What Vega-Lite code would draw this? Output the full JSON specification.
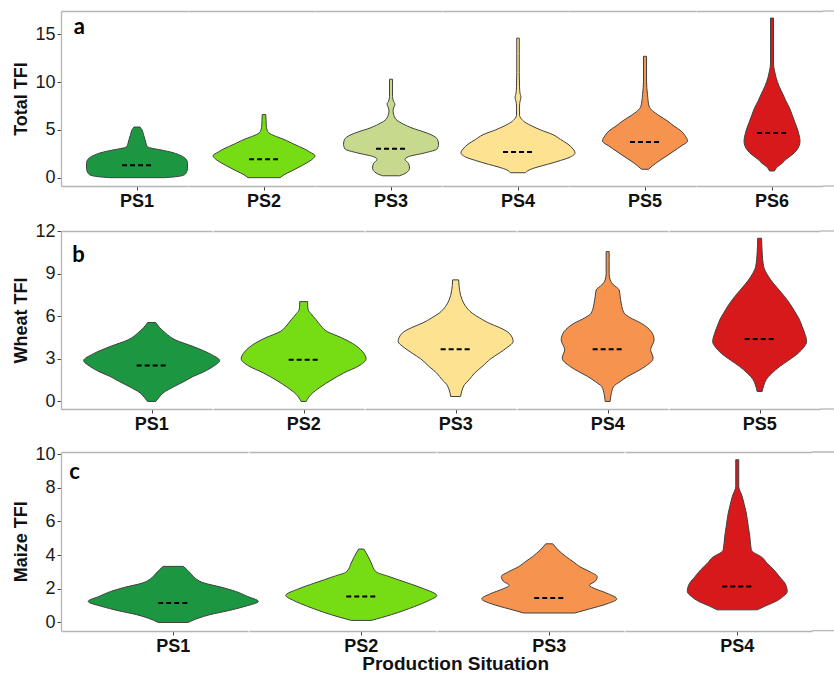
{
  "$schema": "https://vega.github.io/schema/vega-lite/v6.json",
  "padding": {"left": 12, "top": 10, "right": 0, "bottom": 0},
  "background": "white",
  "datasets": {
    "a": [
      {"ps": "PS1", "v": 0, "w": 0.434}, {"ps": "PS1", "v": 0.15, "w": 0.671}, {"ps": "PS1", "v": 0.4, "w": 0.766}, {"ps": "PS1", "v": 1.0, "w": 0.797}, {"ps": "PS1", "v": 1.5, "w": 0.797}, {"ps": "PS1", "v": 2.0, "w": 0.766}, {"ps": "PS1", "v": 2.3, "w": 0.695}, {"ps": "PS1", "v": 2.62, "w": 0.568}, {"ps": "PS1", "v": 2.9, "w": 0.379}, {"ps": "PS1", "v": 3.1, "w": 0.221}, {"ps": "PS1", "v": 3.3, "w": 0.158}, {"ps": "PS1", "v": 3.6, "w": 0.142}, {"ps": "PS1", "v": 4.0, "w": 0.126}, {"ps": "PS1", "v": 4.5, "w": 0.103}, {"ps": "PS1", "v": 5.0, "w": 0.079}, {"ps": "PS1", "v": 5.3, "w": 0.047},
      {"ps": "PS2", "v": 0, "w": 0.253}, {"ps": "PS2", "v": 0.3, "w": 0.316}, {"ps": "PS2", "v": 0.7, "w": 0.434}, {"ps": "PS2", "v": 1.0, "w": 0.521}, {"ps": "PS2", "v": 1.5, "w": 0.663}, {"ps": "PS2", "v": 2.0, "w": 0.773}, {"ps": "PS2", "v": 2.3, "w": 0.805}, {"ps": "PS2", "v": 2.7, "w": 0.718}, {"ps": "PS2", "v": 3.0, "w": 0.64}, {"ps": "PS2", "v": 3.5, "w": 0.474}, {"ps": "PS2", "v": 4.0, "w": 0.316}, {"ps": "PS2", "v": 4.3, "w": 0.197}, {"ps": "PS2", "v": 4.6, "w": 0.095}, {"ps": "PS2", "v": 5.0, "w": 0.047}, {"ps": "PS2", "v": 5.5, "w": 0.035}, {"ps": "PS2", "v": 6.0, "w": 0.032}, {"ps": "PS2", "v": 6.6, "w": 0.028},
      {"ps": "PS3", "v": 0.2, "w": 0.134}, {"ps": "PS3", "v": 0.5, "w": 0.237}, {"ps": "PS3", "v": 1.0, "w": 0.292}, {"ps": "PS3", "v": 1.5, "w": 0.276}, {"ps": "PS3", "v": 1.9, "w": 0.221}, {"ps": "PS3", "v": 2.2, "w": 0.276}, {"ps": "PS3", "v": 2.6, "w": 0.537}, {"ps": "PS3", "v": 3.0, "w": 0.726}, {"ps": "PS3", "v": 3.5, "w": 0.75}, {"ps": "PS3", "v": 4.0, "w": 0.734}, {"ps": "PS3", "v": 4.5, "w": 0.631}, {"ps": "PS3", "v": 4.8, "w": 0.513}, {"ps": "PS3", "v": 5.2, "w": 0.331}, {"ps": "PS3", "v": 5.6, "w": 0.197}, {"ps": "PS3", "v": 6.0, "w": 0.095}, {"ps": "PS3", "v": 6.5, "w": 0.047}, {"ps": "PS3", "v": 7.0, "w": 0.032}, {"ps": "PS3", "v": 7.4, "w": 0.047}, {"ps": "PS3", "v": 7.7, "w": 0.063}, {"ps": "PS3", "v": 8.0, "w": 0.039}, {"ps": "PS3", "v": 8.5, "w": 0.024}, {"ps": "PS3", "v": 9.5, "w": 0.024}, {"ps": "PS3", "v": 10.3, "w": 0.024},
      {"ps": "PS4", "v": 0.52, "w": 0.118}, {"ps": "PS4", "v": 0.8, "w": 0.174}, {"ps": "PS4", "v": 1.1, "w": 0.3}, {"ps": "PS4", "v": 1.4, "w": 0.466}, {"ps": "PS4", "v": 1.8, "w": 0.671}, {"ps": "PS4", "v": 2.1, "w": 0.805}, {"ps": "PS4", "v": 2.6, "w": 0.9}, {"ps": "PS4", "v": 3.0, "w": 0.868}, {"ps": "PS4", "v": 3.5, "w": 0.789}, {"ps": "PS4", "v": 4.0, "w": 0.671}, {"ps": "PS4", "v": 4.5, "w": 0.552}, {"ps": "PS4", "v": 5.0, "w": 0.355}, {"ps": "PS4", "v": 5.4, "w": 0.221}, {"ps": "PS4", "v": 5.8, "w": 0.11}, {"ps": "PS4", "v": 6.2, "w": 0.047}, {"ps": "PS4", "v": 6.5, "w": 0.024}, {"ps": "PS4", "v": 7.5, "w": 0.024}, {"ps": "PS4", "v": 8.0, "w": 0.032}, {"ps": "PS4", "v": 8.4, "w": 0.047}, {"ps": "PS4", "v": 8.8, "w": 0.032}, {"ps": "PS4", "v": 9.5, "w": 0.024}, {"ps": "PS4", "v": 11.0, "w": 0.02}, {"ps": "PS4", "v": 13.0, "w": 0.02}, {"ps": "PS4", "v": 14.6, "w": 0.02},
      {"ps": "PS5", "v": 0.88, "w": 0.055}, {"ps": "PS5", "v": 1.2, "w": 0.11}, {"ps": "PS5", "v": 1.75, "w": 0.221}, {"ps": "PS5", "v": 2.3, "w": 0.347}, {"ps": "PS5", "v": 2.8, "w": 0.458}, {"ps": "PS5", "v": 3.3, "w": 0.568}, {"ps": "PS5", "v": 3.84, "w": 0.671}, {"ps": "PS5", "v": 4.4, "w": 0.631}, {"ps": "PS5", "v": 4.9, "w": 0.568}, {"ps": "PS5", "v": 5.4, "w": 0.458}, {"ps": "PS5", "v": 5.93, "w": 0.355}, {"ps": "PS5", "v": 6.5, "w": 0.221}, {"ps": "PS5", "v": 7.0, "w": 0.118}, {"ps": "PS5", "v": 7.5, "w": 0.063}, {"ps": "PS5", "v": 8.7, "w": 0.039}, {"ps": "PS5", "v": 10.1, "w": 0.024}, {"ps": "PS5", "v": 12.7, "w": 0.024},
      {"ps": "PS6", "v": 0.7, "w": 0.039}, {"ps": "PS6", "v": 1.2, "w": 0.095}, {"ps": "PS6", "v": 1.5, "w": 0.158}, {"ps": "PS6", "v": 1.92, "w": 0.221}, {"ps": "PS6", "v": 2.4, "w": 0.316}, {"ps": "PS6", "v": 2.8, "w": 0.379}, {"ps": "PS6", "v": 3.3, "w": 0.426}, {"ps": "PS6", "v": 3.84, "w": 0.442}, {"ps": "PS6", "v": 4.5, "w": 0.426}, {"ps": "PS6", "v": 5.2, "w": 0.395}, {"ps": "PS6", "v": 5.9, "w": 0.355}, {"ps": "PS6", "v": 6.6, "w": 0.316}, {"ps": "PS6", "v": 7.3, "w": 0.276}, {"ps": "PS6", "v": 8.0, "w": 0.221}, {"ps": "PS6", "v": 8.7, "w": 0.174}, {"ps": "PS6", "v": 9.6, "w": 0.11}, {"ps": "PS6", "v": 10.5, "w": 0.063}, {"ps": "PS6", "v": 11.2, "w": 0.039}, {"ps": "PS6", "v": 11.9, "w": 0.024}, {"ps": "PS6", "v": 14.0, "w": 0.024}, {"ps": "PS6", "v": 16.7, "w": 0.024},
      {"ps": "PS1", "med": 1.3}, {"ps": "PS2", "med": 1.92}, {"ps": "PS3", "med": 3.03}, {"ps": "PS4", "med": 2.69}, {"ps": "PS5", "med": 3.73}, {"ps": "PS6", "med": 4.68},
      {"ps": "PS1", "tag": "a"}
    ],
    "b": [
      {"ps": "PS1", "v": 0, "w": 0.053}, {"ps": "PS1", "v": 0.3, "w": 0.099}, {"ps": "PS1", "v": 0.6, "w": 0.152}, {"ps": "PS1", "v": 1.05, "w": 0.298}, {"ps": "PS1", "v": 1.41, "w": 0.43}, {"ps": "PS1", "v": 1.76, "w": 0.549}, {"ps": "PS1", "v": 2.1, "w": 0.695}, {"ps": "PS1", "v": 2.46, "w": 0.814}, {"ps": "PS1", "v": 2.88, "w": 0.9}, {"ps": "PS1", "v": 3.35, "w": 0.774}, {"ps": "PS1", "v": 3.87, "w": 0.549}, {"ps": "PS1", "v": 4.34, "w": 0.311}, {"ps": "PS1", "v": 4.81, "w": 0.185}, {"ps": "PS1", "v": 5.2, "w": 0.106}, {"ps": "PS1", "v": 5.56, "w": 0.053},
      {"ps": "PS2", "v": 0, "w": 0.033}, {"ps": "PS2", "v": 0.5, "w": 0.099}, {"ps": "PS2", "v": 1.0, "w": 0.218}, {"ps": "PS2", "v": 1.5, "w": 0.364}, {"ps": "PS2", "v": 2.0, "w": 0.529}, {"ps": "PS2", "v": 2.5, "w": 0.728}, {"ps": "PS2", "v": 3.0, "w": 0.827}, {"ps": "PS2", "v": 3.5, "w": 0.781}, {"ps": "PS2", "v": 4.1, "w": 0.642}, {"ps": "PS2", "v": 4.5, "w": 0.496}, {"ps": "PS2", "v": 4.92, "w": 0.311}, {"ps": "PS2", "v": 5.3, "w": 0.232}, {"ps": "PS2", "v": 5.75, "w": 0.165}, {"ps": "PS2", "v": 6.2, "w": 0.093}, {"ps": "PS2", "v": 6.45, "w": 0.06}, {"ps": "PS2", "v": 6.8, "w": 0.053}, {"ps": "PS2", "v": 7.03, "w": 0.053},
      {"ps": "PS3", "v": 0.35, "w": 0.066}, {"ps": "PS3", "v": 0.82, "w": 0.086}, {"ps": "PS3", "v": 1.2, "w": 0.119}, {"ps": "PS3", "v": 1.53, "w": 0.179}, {"ps": "PS3", "v": 2.0, "w": 0.251}, {"ps": "PS3", "v": 2.46, "w": 0.351}, {"ps": "PS3", "v": 3.0, "w": 0.463}, {"ps": "PS3", "v": 3.4, "w": 0.576}, {"ps": "PS3", "v": 3.8, "w": 0.682}, {"ps": "PS3", "v": 4.22, "w": 0.761}, {"ps": "PS3", "v": 4.81, "w": 0.708}, {"ps": "PS3", "v": 5.2, "w": 0.582}, {"ps": "PS3", "v": 5.51, "w": 0.443}, {"ps": "PS3", "v": 5.9, "w": 0.311}, {"ps": "PS3", "v": 6.22, "w": 0.218}, {"ps": "PS3", "v": 6.7, "w": 0.132}, {"ps": "PS3", "v": 7.15, "w": 0.086}, {"ps": "PS3", "v": 7.8, "w": 0.053}, {"ps": "PS3", "v": 8.56, "w": 0.04},
      {"ps": "PS4", "v": 0, "w": 0.033}, {"ps": "PS4", "v": 0.5, "w": 0.046}, {"ps": "PS4", "v": 1.05, "w": 0.079}, {"ps": "PS4", "v": 1.4, "w": 0.165}, {"ps": "PS4", "v": 1.76, "w": 0.265}, {"ps": "PS4", "v": 2.1, "w": 0.384}, {"ps": "PS4", "v": 2.46, "w": 0.496}, {"ps": "PS4", "v": 3.05, "w": 0.602}, {"ps": "PS4", "v": 3.64, "w": 0.569}, {"ps": "PS4", "v": 4.34, "w": 0.615}, {"ps": "PS4", "v": 4.92, "w": 0.576}, {"ps": "PS4", "v": 5.51, "w": 0.443}, {"ps": "PS4", "v": 5.9, "w": 0.298}, {"ps": "PS4", "v": 6.22, "w": 0.218}, {"ps": "PS4", "v": 6.92, "w": 0.179}, {"ps": "PS4", "v": 7.4, "w": 0.165}, {"ps": "PS4", "v": 7.85, "w": 0.152}, {"ps": "PS4", "v": 8.2, "w": 0.079}, {"ps": "PS4", "v": 8.56, "w": 0.033}, {"ps": "PS4", "v": 9.0, "w": 0.02}, {"ps": "PS4", "v": 10.0, "w": 0.02}, {"ps": "PS4", "v": 10.55, "w": 0.02},
      {"ps": "PS5", "v": 0.7, "w": 0.033}, {"ps": "PS5", "v": 1.1, "w": 0.053}, {"ps": "PS5", "v": 1.53, "w": 0.086}, {"ps": "PS5", "v": 2.0, "w": 0.165}, {"ps": "PS5", "v": 2.46, "w": 0.265}, {"ps": "PS5", "v": 2.9, "w": 0.384}, {"ps": "PS5", "v": 3.4, "w": 0.51}, {"ps": "PS5", "v": 3.8, "w": 0.582}, {"ps": "PS5", "v": 4.22, "w": 0.622}, {"ps": "PS5", "v": 4.8, "w": 0.596}, {"ps": "PS5", "v": 5.27, "w": 0.563}, {"ps": "PS5", "v": 5.8, "w": 0.523}, {"ps": "PS5", "v": 6.22, "w": 0.477}, {"ps": "PS5", "v": 6.8, "w": 0.41}, {"ps": "PS5", "v": 7.38, "w": 0.331}, {"ps": "PS5", "v": 8.0, "w": 0.232}, {"ps": "PS5", "v": 8.56, "w": 0.146}, {"ps": "PS5", "v": 9.0, "w": 0.093}, {"ps": "PS5", "v": 9.5, "w": 0.053}, {"ps": "PS5", "v": 10.5, "w": 0.033}, {"ps": "PS5", "v": 11.49, "w": 0.026},
      {"ps": "PS1", "med": 2.53}, {"ps": "PS2", "med": 2.93}, {"ps": "PS3", "med": 3.68}, {"ps": "PS4", "med": 3.68}, {"ps": "PS5", "med": 4.39},
      {"ps": "PS1", "tag": "b"}
    ],
    "c": [
      {"ps": "PS1", "v": 0, "w": 0.16}, {"ps": "PS1", "v": 0.25, "w": 0.267}, {"ps": "PS1", "v": 0.46, "w": 0.39}, {"ps": "PS1", "v": 0.7, "w": 0.588}, {"ps": "PS1", "v": 0.95, "w": 0.764}, {"ps": "PS1", "v": 1.25, "w": 0.909}, {"ps": "PS1", "v": 1.55, "w": 0.791}, {"ps": "PS1", "v": 1.84, "w": 0.668}, {"ps": "PS1", "v": 2.1, "w": 0.508}, {"ps": "PS1", "v": 2.34, "w": 0.331}, {"ps": "PS1", "v": 2.6, "w": 0.241}, {"ps": "PS1", "v": 2.9, "w": 0.187}, {"ps": "PS1", "v": 3.15, "w": 0.144}, {"ps": "PS1", "v": 3.33, "w": 0.107},
      {"ps": "PS2", "v": 0.12, "w": 0.107}, {"ps": "PS2", "v": 0.46, "w": 0.321}, {"ps": "PS2", "v": 0.95, "w": 0.572}, {"ps": "PS2", "v": 1.3, "w": 0.722}, {"ps": "PS2", "v": 1.6, "w": 0.807}, {"ps": "PS2", "v": 2.0, "w": 0.668}, {"ps": "PS2", "v": 2.34, "w": 0.497}, {"ps": "PS2", "v": 2.73, "w": 0.294}, {"ps": "PS2", "v": 3.0, "w": 0.16}, {"ps": "PS2", "v": 3.53, "w": 0.107}, {"ps": "PS2", "v": 3.9, "w": 0.075}, {"ps": "PS2", "v": 4.36, "w": 0.027},
      {"ps": "PS3", "v": 0.56, "w": 0.273}, {"ps": "PS3", "v": 0.8, "w": 0.428}, {"ps": "PS3", "v": 1.1, "w": 0.615}, {"ps": "PS3", "v": 1.4, "w": 0.722}, {"ps": "PS3", "v": 1.7, "w": 0.631}, {"ps": "PS3", "v": 2.0, "w": 0.492}, {"ps": "PS3", "v": 2.2, "w": 0.428}, {"ps": "PS3", "v": 2.45, "w": 0.492}, {"ps": "PS3", "v": 2.73, "w": 0.513}, {"ps": "PS3", "v": 3.0, "w": 0.438}, {"ps": "PS3", "v": 3.3, "w": 0.331}, {"ps": "PS3", "v": 3.6, "w": 0.257}, {"ps": "PS3", "v": 3.92, "w": 0.176}, {"ps": "PS3", "v": 4.3, "w": 0.096}, {"ps": "PS3", "v": 4.67, "w": 0.037},
      {"ps": "PS4", "v": 0.75, "w": 0.214}, {"ps": "PS4", "v": 1.0, "w": 0.31}, {"ps": "PS4", "v": 1.25, "w": 0.412}, {"ps": "PS4", "v": 1.55, "w": 0.492}, {"ps": "PS4", "v": 1.84, "w": 0.534}, {"ps": "PS4", "v": 2.34, "w": 0.508}, {"ps": "PS4", "v": 2.7, "w": 0.454}, {"ps": "PS4", "v": 3.13, "w": 0.39}, {"ps": "PS4", "v": 3.5, "w": 0.321}, {"ps": "PS4", "v": 3.92, "w": 0.251}, {"ps": "PS4", "v": 4.15, "w": 0.176}, {"ps": "PS4", "v": 4.32, "w": 0.15}, {"ps": "PS4", "v": 5.11, "w": 0.134}, {"ps": "PS4", "v": 5.7, "w": 0.118}, {"ps": "PS4", "v": 6.5, "w": 0.096}, {"ps": "PS4", "v": 7.0, "w": 0.075}, {"ps": "PS4", "v": 7.48, "w": 0.053}, {"ps": "PS4", "v": 8.08, "w": 0.016}, {"ps": "PS4", "v": 9.0, "w": 0.016}, {"ps": "PS4", "v": 9.66, "w": 0.016},
      {"ps": "PS1", "med": 1.15}, {"ps": "PS2", "med": 1.54}, {"ps": "PS3", "med": 1.45}, {"ps": "PS4", "med": 2.14},
      {"ps": "PS1", "tag": "c"}
    ]
  },
  "vconcat": [
    {
      "data": {"name": "a"},
      "transform": [{"stack": "w", "groupby": ["ps", "v"], "offset": "center", "as": ["x0", "x1"]}],
      "spacing": {"column": 0},
      "bounds": "flush",
      "facet": {"column": {"field": "ps", "type": "nominal", "title": null, "header": {"labels": false}}},
      "spec": {
        "width": 126.7,
        "height": 175,
        "layer": [
          {
            "transform": [{"filter": "isValid(datum.w)"}],
            "mark": {"type": "area", "orient": "horizontal", "interpolate": "monotone", "stroke": "#404040", "strokeWidth": 1, "opacity": 1},
            "encoding": {
              "y": {"field": "v", "type": "quantitative", "scale": {"domain": [-0.87, 17.44], "nice": false, "zero": false}, "axis": {"values": [0, 5, 10, 15], "title": "Total TFI"}},
              "x": {"field": "x0", "type": "quantitative", "scale": {"domain": [-0.15, 0.85], "nice": false, "zero": false}, "axis": {"orient": "bottom", "values": [0.45], "labels": false, "title": null}},
              "x2": {"field": "x1"},
              "color": {"field": "ps", "type": "nominal", "scale": {"domain": ["PS1", "PS2", "PS3", "PS4", "PS5", "PS6"], "range": ["#1c9640", "#76dd14", "#c6d98c", "#fde291", "#f5934f", "#d7191c"]}, "legend": null}
            }
          },
          {
            "transform": [{"filter": "isValid(datum.med)"}],
            "mark": {"type": "point", "shape": "stroke", "filled": false, "color": "#000000", "strokeWidth": 2, "strokeDash": [5, 3], "size": 900, "opacity": 1},
            "encoding": {
              "y": {"field": "med", "type": "quantitative", "axis": {"values": [0, 5, 10, 15], "title": "Total TFI"}},
              "x": {"datum": 0.45, "axis": {"orient": "top", "ticks": false, "labels": false, "title": null}}
            }
          },
          {
            "transform": [{"filter": "isValid(datum.med)"}],
            "mark": {"type": "text", "align": "center", "baseline": "top", "dy": 7, "font": "Liberation Sans", "fontSize": 18, "fontWeight": "bold", "color": "#111111"},
            "encoding": {
              "text": {"field": "ps"},
              "y": {"datum": -0.87, "axis": {"values": [0, 5, 10, 15], "title": "Total TFI"}},
              "x": {"datum": 0.45, "axis": null}
            }
          },
          {
            "transform": [{"filter": "isValid(datum.tag)"}],
            "mark": {"type": "text", "align": "left", "baseline": "alphabetic", "font": "Lato", "fontSize": 22, "fontWeight": "bold", "color": "#000000"},
            "encoding": {
              "text": {"field": "tag"},
              "y": {"datum": 15.03, "axis": {"values": [0, 5, 10, 15], "title": "Total TFI"}},
              "x": {"datum": -0.05, "axis": null}
            }
          },
          {
            "transform": [{"filter": "datum.ps === 'PS6' && isValid(datum.med)"}],
            "mark": {"type": "rule", "color": "#b5b5b5", "strokeWidth": 1.3},
            "encoding": {
              "y": {"datum": 17.44, "axis": {"values": [0, 5, 10, 15], "title": "Total TFI"}},
              "x": {"datum": 0.85, "axis": null},
              "x2": {"datum": 1.05}
            }
          },
          {
            "transform": [{"filter": "datum.ps === 'PS6' && isValid(datum.med)"}],
            "mark": {"type": "rule", "color": "#b5b5b5", "strokeWidth": 1.3},
            "encoding": {
              "y": {"datum": -0.87, "axis": {"values": [0, 5, 10, 15], "title": "Total TFI"}},
              "x": {"datum": 0.85, "axis": null},
              "x2": {"datum": 1.05}
            }
          }
        ],
        "resolve": {"axis": {"x": "independent"}}
      }
    },
    {
      "data": {"name": "b"},
      "transform": [{"stack": "w", "groupby": ["ps", "v"], "offset": "center", "as": ["x0", "x1"]}],
      "spacing": {"column": 0},
      "bounds": "flush",
      "facet": {"column": {"field": "ps", "type": "nominal", "title": null, "header": {"labels": false}}},
      "spec": {
        "width": 151.1,
        "height": 178,
        "layer": [
          {
            "transform": [{"filter": "isValid(datum.w)"}],
            "mark": {"type": "area", "orient": "horizontal", "interpolate": "monotone", "stroke": "#404040", "strokeWidth": 1, "opacity": 1},
            "encoding": {
              "y": {"field": "v", "type": "quantitative", "scale": {"domain": [-0.53, 12], "nice": false, "zero": false}, "axis": {"values": [0, 3, 6, 9, 12], "title": "Wheat TFI"}},
              "x": {"field": "x0", "type": "quantitative", "scale": {"domain": [-0.15, 0.85], "nice": false, "zero": false}, "axis": {"orient": "bottom", "values": [0.45], "labels": false, "title": null}},
              "x2": {"field": "x1"},
              "color": {"field": "ps", "type": "nominal", "scale": {"domain": ["PS1", "PS2", "PS3", "PS4", "PS5"], "range": ["#1c9640", "#76dd14", "#fde291", "#f5934f", "#d7191c"]}, "legend": null}
            }
          },
          {
            "transform": [{"filter": "isValid(datum.med)"}],
            "mark": {"type": "point", "shape": "stroke", "filled": false, "color": "#000000", "strokeWidth": 2, "strokeDash": [5, 3], "size": 900, "opacity": 1},
            "encoding": {
              "y": {"field": "med", "type": "quantitative", "axis": {"values": [0, 3, 6, 9, 12], "title": "Wheat TFI"}},
              "x": {"datum": 0.45, "axis": {"orient": "top", "ticks": false, "labels": false, "title": null}}
            }
          },
          {
            "transform": [{"filter": "isValid(datum.med)"}],
            "mark": {"type": "text", "align": "center", "baseline": "top", "dy": 7, "font": "Liberation Sans", "fontSize": 18, "fontWeight": "bold", "color": "#111111"},
            "encoding": {
              "text": {"field": "ps"},
              "y": {"datum": -0.53, "axis": {"values": [0, 3, 6, 9, 12], "title": "Wheat TFI"}},
              "x": {"datum": 0.45, "axis": null}
            }
          },
          {
            "transform": [{"filter": "isValid(datum.tag)"}],
            "mark": {"type": "text", "align": "left", "baseline": "alphabetic", "font": "Lato", "fontSize": 22, "fontWeight": "bold", "color": "#000000"},
            "encoding": {
              "text": {"field": "tag"},
              "y": {"datum": 9.85, "axis": {"values": [0, 3, 6, 9, 12], "title": "Wheat TFI"}},
              "x": {"datum": -0.075, "axis": null}
            }
          },
          {
            "transform": [{"filter": "datum.ps === 'PS5' && isValid(datum.med)"}],
            "mark": {"type": "rule", "color": "#b5b5b5", "strokeWidth": 1.3},
            "encoding": {
              "y": {"datum": 12, "axis": {"values": [0, 3, 6, 9, 12], "title": "Wheat TFI"}},
              "x": {"datum": 0.85, "axis": null},
              "x2": {"datum": 1.05}
            }
          },
          {
            "transform": [{"filter": "datum.ps === 'PS5' && isValid(datum.med)"}],
            "mark": {"type": "rule", "color": "#b5b5b5", "strokeWidth": 1.3},
            "encoding": {
              "y": {"datum": -0.53, "axis": {"values": [0, 3, 6, 9, 12], "title": "Wheat TFI"}},
              "x": {"datum": 0.85, "axis": null},
              "x2": {"datum": 1.05}
            }
          }
        ],
        "resolve": {"axis": {"x": "independent"}}
      }
    },
    {
      "data": {"name": "c"},
      "transform": [{"stack": "w", "groupby": ["ps", "v"], "offset": "center", "as": ["x0", "x1"]}],
      "spacing": {"column": 0},
      "bounds": "flush",
      "facet": {"column": {"field": "ps", "type": "nominal", "title": null, "header": {"labels": false}}},
      "spec": {
        "width": 187.1,
        "height": 178.7,
        "layer": [
          {
            "transform": [{"filter": "isValid(datum.w)"}],
            "mark": {"type": "area", "orient": "horizontal", "interpolate": "monotone", "stroke": "#404040", "strokeWidth": 1, "opacity": 1},
            "encoding": {
              "y": {"field": "v", "type": "quantitative", "scale": {"domain": [-0.49, 10.12], "nice": false, "zero": false}, "axis": {"values": [0, 2, 4, 6, 8, 10], "title": "Maize TFI"}},
              "x": {"field": "x0", "type": "quantitative", "scale": {"domain": [-0.1455, 0.8545], "nice": false, "zero": false}, "axis": {"orient": "bottom", "values": [0.4545], "labels": false, "title": null}},
              "x2": {"field": "x1"},
              "color": {"field": "ps", "type": "nominal", "scale": {"domain": ["PS1", "PS2", "PS3", "PS4"], "range": ["#1c9640", "#76dd14", "#f5934f", "#d7191c"]}, "legend": null}
            }
          },
          {
            "transform": [{"filter": "isValid(datum.med)"}],
            "mark": {"type": "point", "shape": "stroke", "filled": false, "color": "#000000", "strokeWidth": 2, "strokeDash": [5, 3], "size": 900, "opacity": 1},
            "encoding": {
              "y": {"field": "med", "type": "quantitative", "axis": {"values": [0, 2, 4, 6, 8, 10], "title": "Maize TFI"}},
              "x": {"datum": 0.4545, "axis": {"orient": "top", "ticks": false, "labels": false, "title": null}}
            }
          },
          {
            "transform": [{"filter": "isValid(datum.med)"}],
            "mark": {"type": "text", "align": "center", "baseline": "top", "dy": 7, "font": "Liberation Sans", "fontSize": 18, "fontWeight": "bold", "color": "#111111"},
            "encoding": {
              "text": {"field": "ps"},
              "y": {"datum": -0.49, "axis": {"values": [0, 2, 4, 6, 8, 10], "title": "Maize TFI"}},
              "x": {"datum": 0.4545, "axis": null}
            }
          },
          {
            "transform": [{"filter": "datum.ps === 'PS3' && isValid(datum.med)"}],
            "mark": {"type": "text", "align": "center", "baseline": "top", "dy": 24, "font": "Liberation Sans", "fontSize": 19, "fontWeight": "bold", "color": "#111111"},
            "encoding": {
              "text": {"value": "Production Situation"},
              "y": {"datum": -0.49, "axis": {"values": [0, 2, 4, 6, 8, 10], "title": "Maize TFI"}},
              "x": {"datum": -0.0458, "axis": null}
            }
          },
          {
            "transform": [{"filter": "isValid(datum.tag)"}],
            "mark": {"type": "text", "align": "left", "baseline": "alphabetic", "font": "Lato", "fontSize": 22, "fontWeight": "bold", "color": "#000000"},
            "encoding": {
              "text": {"field": "tag"},
              "y": {"datum": 8.52, "axis": {"values": [0, 2, 4, 6, 8, 10], "title": "Maize TFI"}},
              "x": {"datum": -0.1015, "axis": null}
            }
          },
          {
            "transform": [{"filter": "datum.ps === 'PS4' && isValid(datum.med)"}],
            "mark": {"type": "rule", "color": "#b5b5b5", "strokeWidth": 1.3},
            "encoding": {
              "y": {"datum": 10.12, "axis": {"values": [0, 2, 4, 6, 8, 10], "title": "Maize TFI"}},
              "x": {"datum": 0.8545, "axis": null},
              "x2": {"datum": 1.0545}
            }
          },
          {
            "transform": [{"filter": "datum.ps === 'PS4' && isValid(datum.med)"}],
            "mark": {"type": "rule", "color": "#b5b5b5", "strokeWidth": 1.3},
            "encoding": {
              "y": {"datum": -0.49, "axis": {"values": [0, 2, 4, 6, 8, 10], "title": "Maize TFI"}},
              "x": {"datum": 0.8545, "axis": null},
              "x2": {"datum": 1.0545}
            }
          }
        ],
        "resolve": {"axis": {"x": "independent"}}
      }
    }
  ],
  "spacing": 11,
  "resolve": {"scale": {"color": "independent", "x": "independent", "y": "independent"}},
  "config": {
    "view": {"stroke": null},
    "font": "Liberation Sans",
    "axis": {
      "grid": false,
      "domainColor": "#b5b5b5",
      "domainWidth": 1.3,
      "tickColor": "#444444",
      "tickSize": 4,
      "labelFont": "Liberation Sans",
      "labelFontSize": 18,
      "labelColor": "#1a1a1a",
      "labelPadding": 2,
      "titleFont": "Liberation Sans",
      "titleFontSize": 18,
      "titleFontWeight": "bold",
      "titleColor": "#111111",
      "titlePadding": 4
    }
  }
}
